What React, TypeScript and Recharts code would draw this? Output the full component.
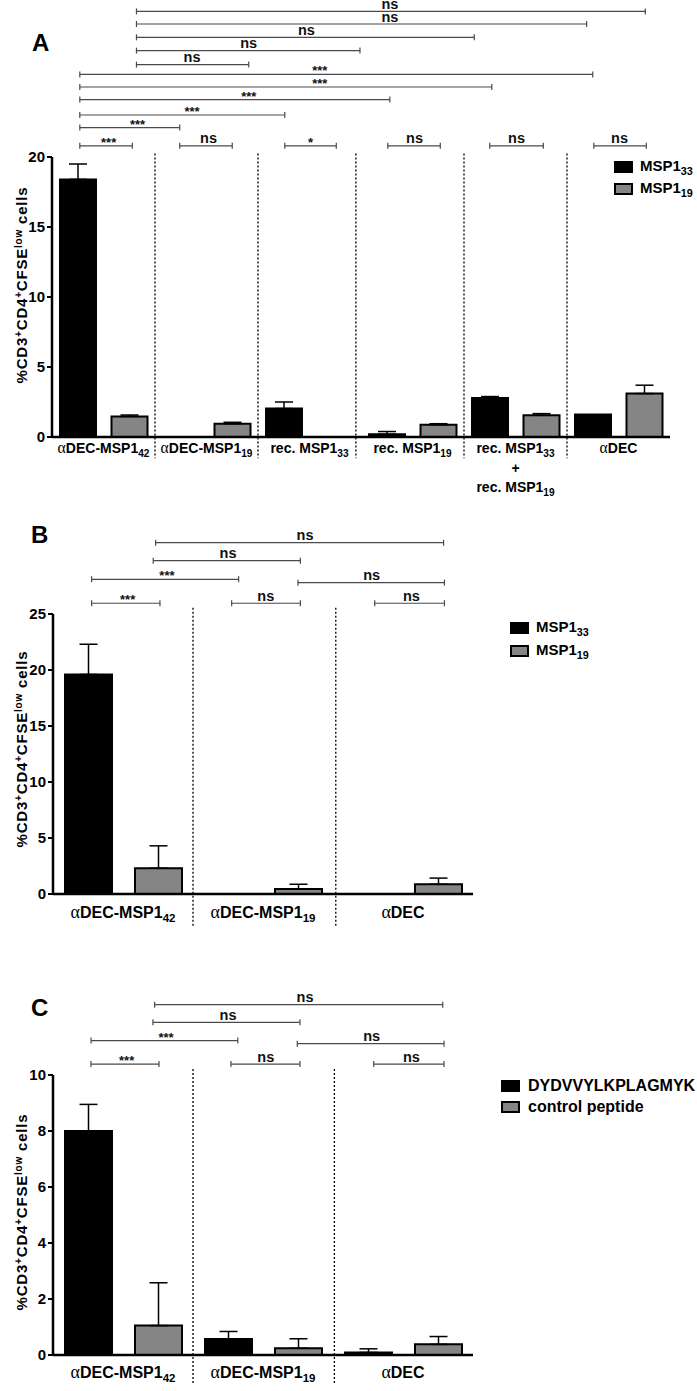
import React from 'react';
import {
  BarChart,
  Bar,
  XAxis,
  YAxis,
  ErrorBar,
  ReferenceLine,
  Legend
} from 'recharts';

const FONT = '"Liberation Sans", Arial, Helvetica, sans-serif';
const SERIF = '"Liberation Serif", "Times New Roman", serif';
const GRAY = '#858585';

// "_" starts a subscript, "|" breaks the label into lines
const groupsA = ['αDEC-MSP1_42', 'αDEC-MSP1_19', 'rec. MSP1_33', 'rec. MSP1_19', 'rec. MSP1_33|+|rec. MSP1_19', 'αDEC'];
const msp33A = [18.4, null, 2.03, 0.19, 2.79, 1.6];
const msp33ErrA = [1.1, null, 0.47, 0.2, 0.1, null];
const msp19A = [1.47, 0.95, null, 0.88, 1.55, 3.1];
const msp19ErrA = [0.1, 0.1, null, 0.07, 0.12, 0.6];
const ticksA = [0, 5, 10, 15, 20];
const dividersA = [1, 2, 2.95, 4, 5];

const groupsBC = ['αDEC-MSP1_42', 'αDEC-MSP1_19', 'αDEC'];
const msp33B = [19.6, null, null];
const msp33ErrB = [2.7, null, null];
const msp19B = [2.3, 0.45, 0.87];
const msp19ErrB = [2.0, 0.42, 0.55];
const ticksB = [0, 5, 10, 15, 20, 25];
const dividersB = [1, 2.02];

const peptideC = [8.0, 0.57, 0.09];
const peptideErrC = [0.95, 0.27, 0.13];
const controlC = [1.05, 0.24, 0.38];
const controlErrC = [1.53, 0.34, 0.28];
const ticksC = [0, 2, 4, 6, 8, 10];
const dividersC = [1, 2.01];

// significance brackets: from / to / label position in group units, height in y units
type Bracket = { from: number; to: number; y: number; text: string; at: number };

const bracketsA: Bracket[] = [
  { from: 0.82, to: 5.76, y: 30.4, text: 'ns', at: 3.28 },
  { from: 0.82, to: 5.19, y: 29.5, text: 'ns', at: 3.28 },
  { from: 0.82, to: 4.1, y: 28.55, text: 'ns', at: 2.47 },
  { from: 0.82, to: 2.99, y: 27.6, text: 'ns', at: 1.91 },
  { from: 0.82, to: 1.91, y: 26.6, text: 'ns', at: 1.36 },
  { from: 0.27, to: 5.25, y: 25.9, text: '***', at: 2.6 },
  { from: 0.27, to: 4.27, y: 25.0, text: '***', at: 2.6 },
  { from: 0.27, to: 3.28, y: 24.1, text: '***', at: 1.91 },
  { from: 0.27, to: 2.26, y: 23.0, text: '***', at: 1.36 },
  { from: 0.27, to: 1.24, y: 22.1, text: '***', at: 0.83 },
  { from: 0.27, to: 0.78, y: 20.8, text: '***', at: 0.55 },
  { from: 1.24, to: 1.75, y: 20.8, text: 'ns', at: 1.52 },
  { from: 2.26, to: 2.76, y: 20.8, text: '*', at: 2.51 },
  { from: 3.26, to: 3.77, y: 20.8, text: 'ns', at: 3.52 },
  { from: 4.25, to: 4.77, y: 20.8, text: 'ns', at: 4.51 },
  { from: 5.26, to: 5.77, y: 20.8, text: 'ns', at: 5.51 }
];

const bracketsB: Bracket[] = [
  { from: 0.733, to: 2.79, y: 31.37, text: 'ns', at: 1.8 },
  { from: 0.716, to: 1.767, y: 29.76, text: 'ns', at: 1.25 },
  { from: 0.276, to: 1.326, y: 28.1, text: '***', at: 0.814 },
  { from: 1.75, to: 2.796, y: 27.8, text: 'ns', at: 2.276 },
  { from: 0.276, to: 0.764, y: 25.96, text: '***', at: 0.533 },
  { from: 1.276, to: 1.767, y: 25.96, text: 'ns', at: 1.52 },
  { from: 2.298, to: 2.796, y: 25.96, text: 'ns', at: 2.56 }
];

const bracketsC: Bracket[] = [
  { from: 0.726, to: 2.784, y: 12.51, text: 'ns', at: 1.8 },
  { from: 0.714, to: 1.764, y: 11.88, text: 'ns', at: 1.25 },
  { from: 0.272, to: 1.32, y: 11.23, text: '***', at: 0.807 },
  { from: 1.745, to: 2.793, y: 11.12, text: 'ns', at: 2.276 },
  { from: 0.271, to: 0.757, y: 10.39, text: '***', at: 0.526 },
  { from: 1.271, to: 1.764, y: 10.39, text: 'ns', at: 1.52 },
  { from: 2.291, to: 2.793, y: 10.39, text: 'ns', at: 2.56 }
];

const seriesAB = ['MSP1_33', 'MSP1_19'];
const seriesC = ['DYDVVYLKPLAGMYK', 'control peptide'];

function makeRows(groups: string[], a: (number | null)[], aErr: (number | null)[], b: (number | null)[], bErr: (number | null)[]) {
  return groups.map((g, i) => ({
    name: g,
    pos: i + 0.5,
    a: a[i],
    aErr: aErr[i] == null ? null : [0, aErr[i]],
    b: b[i],
    bErr: bErr[i] == null ? null : [0, bErr[i]]
  }));
}

function richSvg(s: string, fs: number) {
  const parts: React.ReactNode[] = [];
  let rest = s;
  if (rest.startsWith('α')) {
    parts.push(
      <tspan key="al" fontFamily={SERIF} fontWeight="normal" fontSize={fs * 1.12}>α</tspan>
    );
    rest = rest.slice(1);
  }
  const [main, sub] = rest.split('_');
  parts.push(<tspan key="m">{main}</tspan>);
  if (sub) parts.push(<tspan key="s" fontSize={fs * 0.72} dy={4}>{sub}</tspan>);
  return parts;
}

function richHtml(s: string) {
  const [main, sub] = s.split('_');
  return (
    <>
      {main}
      {sub && <sub style={{ fontSize: '0.72em', verticalAlign: '-0.35em' }}>{sub}</sub>}
    </>
  );
}

const catTick = (fs: number, offset: number) => (props: any) => {
  const { x, y, payload } = props;
  const lines = String(payload.value).split('|');
  return (
    <g transform={`translate(${x},${y})`}>
      {lines.map((ln, i) => (
        <text key={i} x={0} y={offset + i * 19.5} textAnchor="middle" fontFamily={FONT}
          fontWeight="bold" fontSize={fs} fill="#000">
          {richSvg(ln, fs)}
        </text>
      ))}
    </g>
  );
};

const yTitle = (shift: number) => (props: any) => {
  const vb = props.viewBox;
  const cx = 27;
  const cy = vb.y + vb.height / 2 + shift;
  return (
    <text x={cx} y={cy} transform={`rotate(-90 ${cx} ${cy})`} textAnchor="middle"
      fontFamily={FONT} fontWeight="bold" fontSize={15} letterSpacing={0.8} fill="#000">
      %CD3<tspan dy={-5} fontSize={10}>+</tspan>
      <tspan dy={5}>CD4</tspan><tspan dy={-5} fontSize={10}>+</tspan>
      <tspan dy={5}>CFSE</tspan><tspan dy={-5} fontSize={10}>low</tspan>
      <tspan dy={5}> cells</tspan>
    </text>
  );
};

function BracketShape(props: any) {
  const { x1, y1, x2, b } = props;
  const lx = x1 + ((b.at - b.from) / (b.to - b.from)) * (x2 - x1);
  const star = b.text.includes('*');
  return (
    <g>
      <line x1={x1} y1={y1} x2={x2} y2={y1} stroke="#4a4a4a" strokeWidth={1.2} />
      <line x1={x1} y1={y1 - 3} x2={x1} y2={y1 + 3} stroke="#4a4a4a" strokeWidth={1.2} />
      <line x1={x2} y1={y1 - 3} x2={x2} y2={y1 + 3} stroke="#4a4a4a" strokeWidth={1.2} />
      <text x={lx} y={star ? y1 + 1 : y1 - 2.5} textAnchor="middle" fontFamily={FONT}
        fontWeight="bold" fontSize={star ? 13 : 14.5} fill="#111">
        {b.text}
      </text>
    </g>
  );
}

type PanelProps = {
  height: number;
  rows: any[];
  yMax: number;
  yTicks: number[];
  margin: { top: number; right: number; bottom: number; left: number };
  xAxisHeight: number;
  barSize: number;
  barGap: number;
  dividers: number[];
  dividerSpan: [number, number];
  brackets: Bracket[];
  labelFont: number;
  labelOffset: number;
  yShift: number;
  series: string[];
  legend: { left: number; top: number; row: number; font: number; gap: number };
};

function Panel(p: PanelProps) {
  const n = p.rows.length;
  const legendContent = () => (
    <div style={{ fontFamily: FONT, fontWeight: 'bold', fontSize: p.legend.font, color: '#000' }}>
      {p.series.map((s, i) => (
        <div key={s} style={{ display: 'flex', alignItems: 'center', height: p.legend.row, whiteSpace: 'nowrap' }}>
          <span style={{
            display: 'inline-block', width: 19, height: 12, boxSizing: 'border-box',
            background: i === 0 ? '#000' : GRAY, border: '2px solid #000', marginRight: p.legend.gap
          }} />
          <span>{richHtml(s)}</span>
        </div>
      ))}
    </div>
  );
  return (
    <BarChart width={697} height={p.height} data={p.rows} margin={p.margin}
      barSize={p.barSize} barGap={p.barGap} style={{ overflow: 'visible' }}>
      <XAxis dataKey="name" xAxisId={0} height={p.xAxisHeight} interval={0}
        axisLine={{ stroke: '#000', strokeWidth: 2.5 }} tickLine={false} tickSize={0} tickMargin={0}
        tick={catTick(p.labelFont, p.labelOffset)} />
      <XAxis xAxisId="n" dataKey="pos" type="number" domain={[0, n]} allowDataOverflow hide />
      <YAxis width={40} domain={[0, p.yMax]} ticks={p.yTicks} allowDataOverflow interval={0}
        axisLine={{ stroke: '#000', strokeWidth: 2.5 }}
        tickLine={{ stroke: '#000', strokeWidth: 2 }} tickSize={5} tickMargin={2}
        tick={{ fill: '#000', fontFamily: FONT, fontWeight: 'bold', fontSize: 15 }}
        label={yTitle(p.yShift)} />
      {p.dividers.map((d) => (
        <ReferenceLine key={`d${d}`} xAxisId="n" ifOverflow="visible"
          segment={[{ x: d, y: p.dividerSpan[0] }, { x: d, y: p.dividerSpan[1] }]}
          stroke="#000" strokeWidth={1.3} strokeDasharray="2 2" />
      ))}
      {p.brackets.map((b, i) => (
        <ReferenceLine key={`b${i}`} xAxisId="n" ifOverflow="visible"
          segment={[{ x: b.from, y: b.y }, { x: b.to, y: b.y }]}
          shape={(sp: any) => <BracketShape {...sp} b={b} />} />
      ))}
      <Bar dataKey="a" name={p.series[0]} fill="#000" stroke="#000" strokeWidth={2} isAnimationActive={false}>
        <ErrorBar dataKey="aErr" direction="y" width={9} stroke="#000" strokeWidth={1.5} />
      </Bar>
      <Bar dataKey="b" name={p.series[1]} fill={GRAY} stroke="#000" strokeWidth={2} isAnimationActive={false}>
        <ErrorBar dataKey="bErr" direction="y" width={9} stroke="#000" strokeWidth={1.5} />
      </Bar>
      <Legend layout="horizontal" verticalAlign="middle" content={legendContent}
        wrapperStyle={{ position: 'absolute', left: p.legend.left, top: p.legend.top, width: 'auto' }} />
    </BarChart>
  );
}

const letterStyle: React.CSSProperties = {
  position: 'absolute', fontFamily: FONT, fontWeight: 'bold', fontSize: 24, lineHeight: '24px', color: '#000'
};

export default function App() {
  const rowsA = makeRows(groupsA, msp33A, msp33ErrA, msp19A, msp19ErrA);
  const rowsB = makeRows(groupsBC, msp33B, msp33ErrB, msp19B, msp19ErrB);
  const rowsC = makeRows(groupsBC, peptideC, peptideErrC, controlC, controlErrC);
  return (
    <div style={{ position: 'absolute', left: 0, top: 0, width: 697, height: 1391, background: '#fff', overflow: 'hidden' }}>
      <div style={{ position: 'absolute', left: 0, top: 0 }}>
        <Panel height={500} rows={rowsA} yMax={20} yTicks={ticksA}
          margin={{ top: 157, right: 27, bottom: 3, left: 12 }} xAxisHeight={60}
          barSize={36} barGap={15.5} dividers={dividersA} dividerSpan={[20.25, -1.52]}
          brackets={bracketsA} labelFont={14} labelOffset={16} yShift={-12}
          series={seriesAB} legend={{ left: 614, top: 156, row: 22, font: 15, gap: 7 }} />
      </div>
      <div style={{ position: 'absolute', left: 0, top: 500 }}>
        <Panel height={450} rows={rowsB} yMax={25} yTicks={ticksB}
          margin={{ top: 114, right: 224, bottom: 6, left: 13 }} xAxisHeight={50}
          barSize={47} barGap={23} dividers={dividersB} dividerSpan={[25.56, -2.92]}
          brackets={bracketsB} labelFont={16} labelOffset={24} yShift={-5}
          series={seriesAB} legend={{ left: 510, top: 116, row: 23.5, font: 15, gap: 7 }} />
      </div>
      <div style={{ position: 'absolute', left: 0, top: 960 }}>
        <Panel height={431} rows={rowsC} yMax={10} yTicks={ticksC}
          margin={{ top: 115, right: 224, bottom: 6, left: 13 }} xAxisHeight={30}
          barSize={47} barGap={23} dividers={dividersC} dividerSpan={[10.21, -1.06]}
          brackets={bracketsC} labelFont={16} labelOffset={23} yShift={-3}
          series={seriesC} legend={{ left: 501, top: 116, row: 20.5, font: 16, gap: 8 }} />
      </div>
      <div style={{ ...letterStyle, left: 32, top: 31 }}>A</div>
      <div style={{ ...letterStyle, left: 31, top: 523 }}>B</div>
      <div style={{ ...letterStyle, left: 31, top: 996 }}>C</div>
    </div>
  );
}
